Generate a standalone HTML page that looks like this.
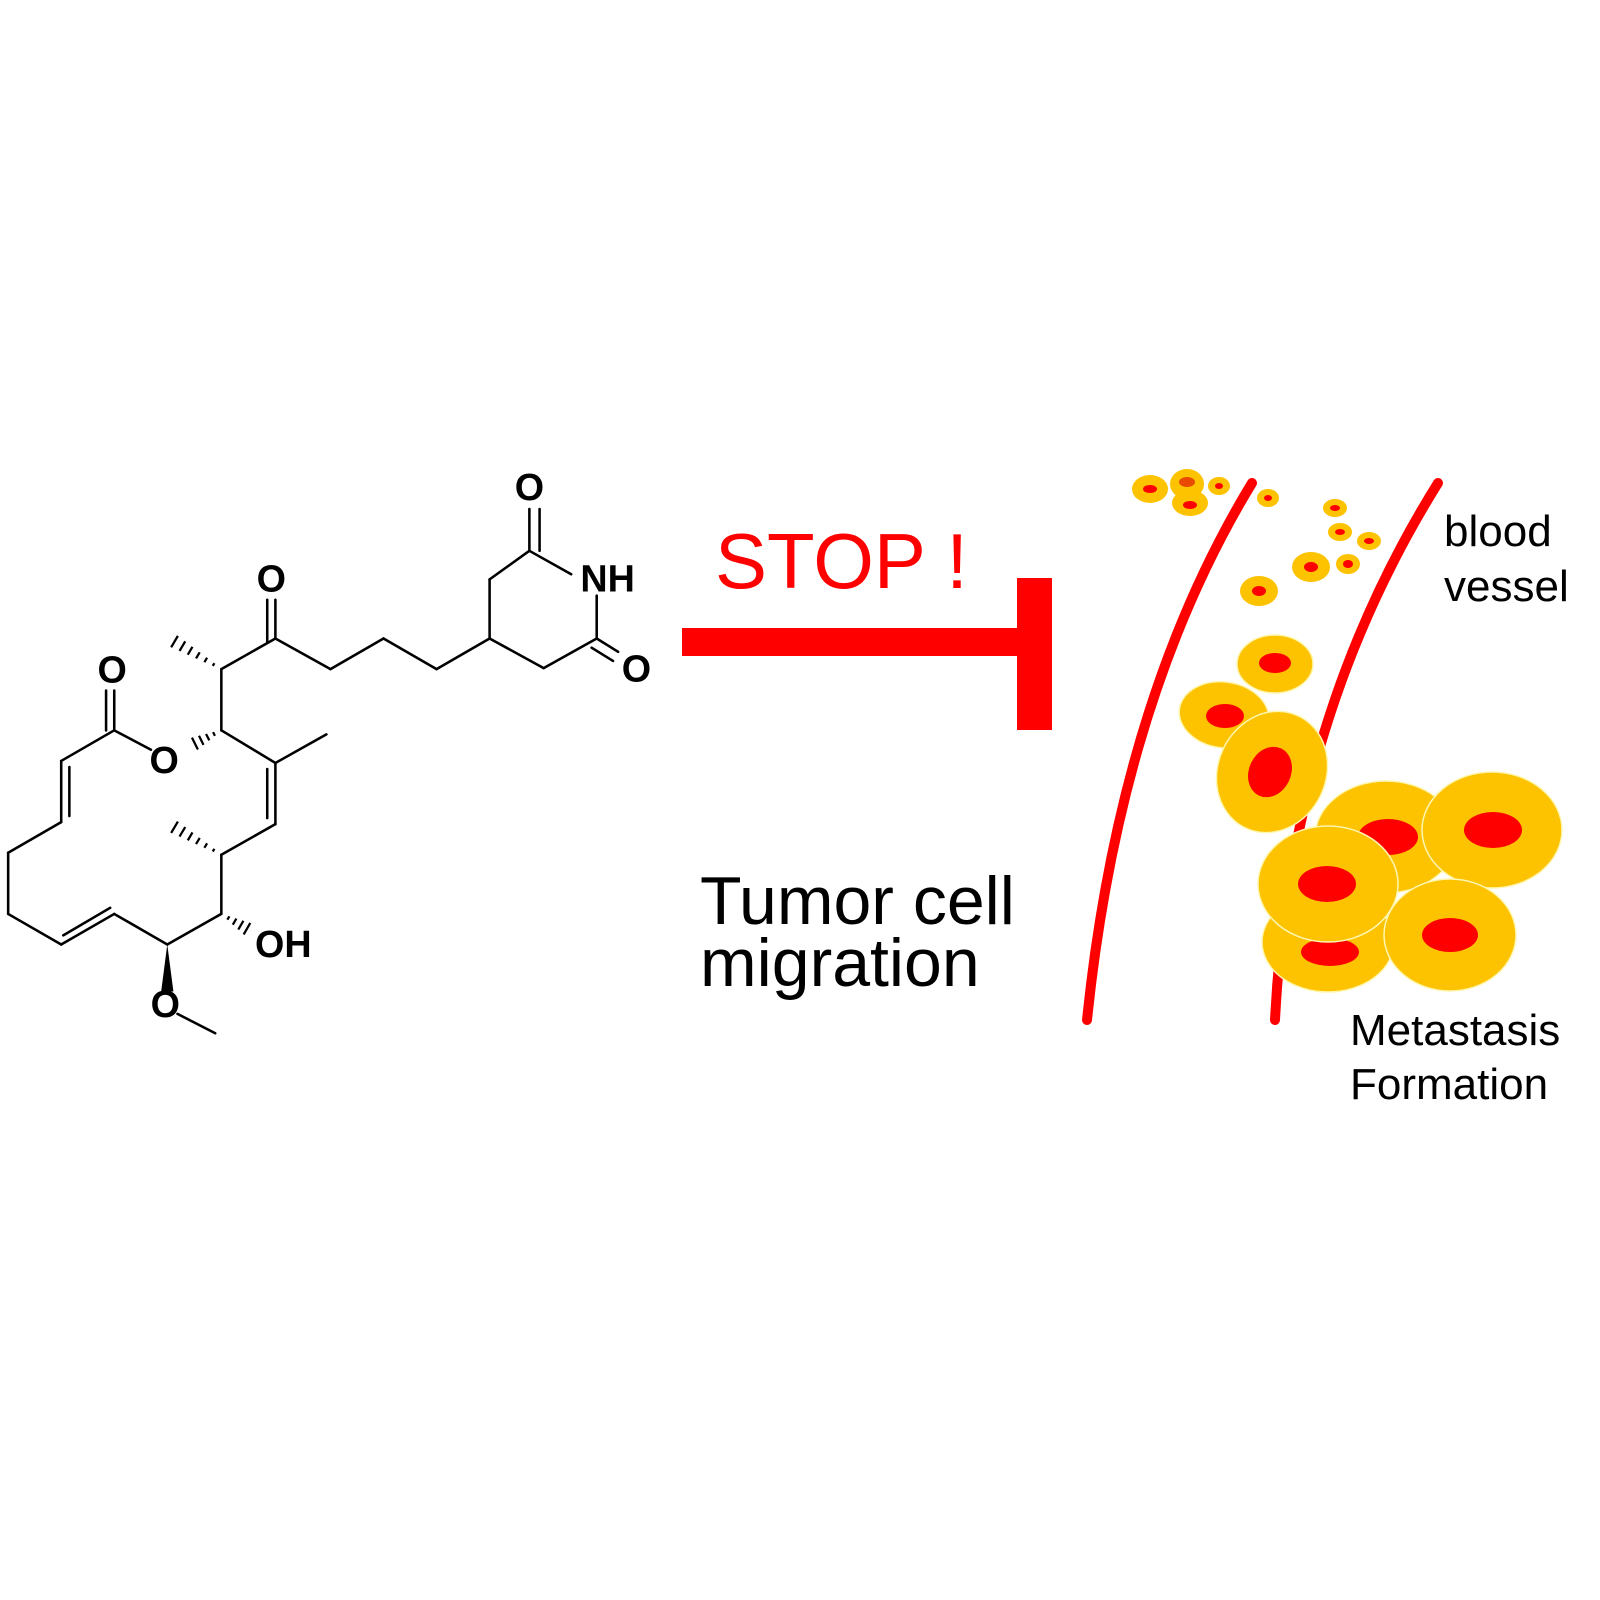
<!DOCTYPE html>
<html><head><meta charset="utf-8"><style>
html,body{margin:0;padding:0;background:#fff;}
svg{display:block;}
</style></head><body>
<svg width="1600" height="1600" viewBox="0 0 1600 1600" xmlns="http://www.w3.org/2000/svg">
<rect width="1600" height="1600" fill="#fff"/>
<g transform="scale(1.02)">
<g stroke="#000" stroke-width="2.5" fill="none" stroke-linecap="round">
<line x1="519" y1="540" x2="519" y2="499"/>
<line x1="529" y1="540" x2="529" y2="499"/>
<line x1="519" y1="540" x2="560" y2="563"/>
<line x1="585" y1="584" x2="585" y2="626"/>
<line x1="585" y1="626" x2="533" y2="655"/>
<line x1="585" y1="626" x2="606" y2="639"/>
<line x1="580" y1="635" x2="601" y2="648"/>
<line x1="533" y1="655" x2="480" y2="626"/>
<line x1="480" y1="626" x2="480" y2="568"/>
<line x1="480" y1="568" x2="519" y2="540"/>
<line x1="480" y1="626" x2="428" y2="656"/>
<line x1="428" y1="656" x2="376" y2="626"/>
<line x1="376" y1="626" x2="324" y2="656"/>
<line x1="324" y1="656" x2="270" y2="626"/>
<line x1="270" y1="626" x2="270" y2="588"/>
<line x1="262" y1="630" x2="262" y2="588"/>
<line x1="270" y1="626" x2="217" y2="656"/>
<line x1="217" y1="656" x2="217" y2="716"/>
<line x1="148" y1="735" x2="112" y2="716"/>
<line x1="112" y1="716" x2="112" y2="677"/>
<line x1="104" y1="716" x2="104" y2="677"/>
<line x1="112" y1="716" x2="60" y2="746"/>
<line x1="60" y1="746" x2="60" y2="806"/>
<line x1="68" y1="752" x2="68" y2="800"/>
<line x1="60" y1="806" x2="8" y2="836"/>
<line x1="8" y1="836" x2="8" y2="896"/>
<line x1="8" y1="896" x2="60" y2="926"/>
<line x1="60" y1="926" x2="112" y2="896"/>
<line x1="62" y1="917" x2="108" y2="890"/>
<line x1="112" y1="896" x2="164" y2="926"/>
<line x1="164" y1="926" x2="217" y2="896"/>
<line x1="217" y1="896" x2="217" y2="838"/>
<line x1="217" y1="838" x2="270" y2="808"/>
<line x1="270" y1="808" x2="270" y2="748"/>
<line x1="262" y1="802" x2="262" y2="754"/>
<line x1="270" y1="748" x2="320" y2="720"/>
<line x1="270" y1="748" x2="217" y2="716"/>
<line x1="174" y1="994" x2="211" y2="1013"/>
</g>
<g stroke="#000" stroke-width="2.2">
<line x1="208.6" y1="652.8" x2="210.2" y2="650.2"/>
<line x1="200.4" y1="649.2" x2="203" y2="644.8"/>
<line x1="192.2" y1="645.5" x2="195.8" y2="639.5"/>
<line x1="184.1" y1="641.9" x2="188.7" y2="634.1"/>
<line x1="176" y1="638.2" x2="181.6" y2="628.8"/>
<line x1="167.8" y1="634.6" x2="174.4" y2="623.4"/>
<line x1="208.6" y1="834.8" x2="210.2" y2="832.2"/>
<line x1="200.4" y1="831.2" x2="203" y2="826.8"/>
<line x1="192.2" y1="827.5" x2="195.8" y2="821.5"/>
<line x1="184.1" y1="823.9" x2="188.7" y2="816.1"/>
<line x1="176" y1="820.2" x2="181.6" y2="810.8"/>
<line x1="167.8" y1="816.6" x2="174.4" y2="805.4"/>
<line x1="208.9" y1="717.8" x2="210.7" y2="721.4"/>
<line x1="202" y1="719.6" x2="205.2" y2="725.8"/>
<line x1="195.1" y1="721.3" x2="199.5" y2="730.3"/>
<line x1="188.2" y1="723.2" x2="194" y2="734.8"/>
<line x1="224.9" y1="898.3" x2="222.9" y2="901.7"/>
<line x1="231.75" y1="900.5" x2="228.25" y2="906.5"/>
<line x1="238.6" y1="902.7" x2="233.6" y2="911.3"/>
<line x1="245.4" y1="904.9" x2="238.9" y2="916.1"/>
</g>
<polygon points="164,926 158,972 170,972" fill="#000"/>
<g font-family="Liberation Sans, Arial, sans-serif" font-weight="bold" font-size="37" fill="#000">
<text x="519" y="490" text-anchor="middle">O</text>
<text x="569" y="580">NH</text>
<text x="624" y="668" text-anchor="middle">O</text>
<text x="266" y="580" text-anchor="middle">O</text>
<text x="110" y="669" text-anchor="middle">O</text>
<text x="161" y="758" text-anchor="middle">O</text>
<text x="250" y="938">OH</text>
<text x="162" y="997" text-anchor="middle">O</text>
</g>
</g>
<text x="715" y="588" font-family="Liberation Sans, Arial, sans-serif" font-size="78" fill="#ff0000">STOP !</text>
<rect x="682" y="628" width="345" height="28" fill="#ff0000"/>
<rect x="1017" y="578" width="35" height="152" fill="#ff0000"/>
<g font-family="Liberation Sans, Arial, sans-serif" font-size="68" fill="#000">
<text x="700" y="924">Tumor cell</text>
<text x="700" y="986">migration</text>
</g>
<g stroke="#ff0000" stroke-width="10" fill="none" stroke-linecap="round">
<path d="M1252,483 Q1120,700 1087,1020"/>
<path d="M1438,483 Q1290,720 1275,1020"/>
</g>
<g fill="#fdc200">
<ellipse cx="1150" cy="489" rx="18" ry="14"/>
<ellipse cx="1190" cy="503" rx="18" ry="13"/>
<ellipse cx="1187" cy="484" rx="17" ry="15"/>
<ellipse cx="1219" cy="486" rx="11" ry="9"/>
<ellipse cx="1268" cy="498" rx="11" ry="9"/>
<ellipse cx="1335" cy="508" rx="12" ry="9"/>
<ellipse cx="1340" cy="532" rx="12" ry="9"/>
<ellipse cx="1369" cy="541" rx="12" ry="9"/>
<ellipse cx="1311" cy="567" rx="19" ry="15"/>
<ellipse cx="1348" cy="564" rx="12" ry="10"/>
<ellipse cx="1259" cy="591" rx="19" ry="15"/>
</g>
<g fill="#ff0000">
<ellipse cx="1150" cy="489" rx="7" ry="4"/>
<ellipse cx="1190" cy="505" rx="7" ry="4"/>
<ellipse cx="1187" cy="482" rx="8" ry="5" fill="#e84a00"/>
<ellipse cx="1219" cy="486" rx="4" ry="3"/>
<ellipse cx="1268" cy="498" rx="4" ry="3"/>
<ellipse cx="1335" cy="508" rx="5" ry="3"/>
<ellipse cx="1340" cy="532" rx="5" ry="3"/>
<ellipse cx="1369" cy="541" rx="5" ry="3"/>
<ellipse cx="1311" cy="567" rx="7" ry="5"/>
<ellipse cx="1348" cy="564" rx="5" ry="4"/>
<ellipse cx="1259" cy="591" rx="7" ry="5"/>
</g>
<g stroke="#fff6b0" stroke-width="1.5">
<g><ellipse cx="1275" cy="664" rx="38" ry="29" fill="#fdc200"/><ellipse cx="1275" cy="663" rx="16" ry="10" fill="#ff0000" stroke="none"/></g>
<g><ellipse cx="1224" cy="715" rx="45" ry="33" transform="rotate(8 1224 715)" fill="#fdc200"/><ellipse cx="1225" cy="716" rx="19" ry="12" fill="#ff0000" stroke="none"/></g>
<g><ellipse cx="1272" cy="772" rx="54" ry="62" transform="rotate(25 1272 772)" fill="#fdc200"/><ellipse cx="1270" cy="772" rx="21" ry="26" transform="rotate(25 1270 772)" fill="#ff0000" stroke="none"/></g>
<g><ellipse cx="1386" cy="837" rx="71" ry="56" fill="#fdc200"/><ellipse cx="1388" cy="837" rx="30" ry="18" fill="#ff0000" stroke="none"/></g>
<g><ellipse cx="1492" cy="830" rx="70" ry="58" fill="#fdc200"/><ellipse cx="1493" cy="830" rx="29" ry="18" fill="#ff0000" stroke="none"/></g>
<g><ellipse cx="1328" cy="942" rx="66" ry="50" fill="#fdc200"/><ellipse cx="1330" cy="952" rx="29" ry="14" fill="#ff0000" stroke="none"/></g>
<g><ellipse cx="1328" cy="884" rx="70" ry="58" fill="#fdc200"/><ellipse cx="1327" cy="884" rx="29" ry="18" fill="#ff0000" stroke="none"/></g>
<g><ellipse cx="1450" cy="935" rx="66" ry="56" fill="#fdc200"/><ellipse cx="1450" cy="935" rx="28" ry="17" fill="#ff0000" stroke="none"/></g>
</g>
<g font-family="Liberation Sans, Arial, sans-serif" font-size="44" fill="#000">
<text x="1444" y="546">blood</text>
<text x="1444" y="601">vessel</text>
<text x="1350" y="1045">Metastasis</text>
<text x="1350" y="1099">Formation</text>
</g>
</svg>
</body></html>
